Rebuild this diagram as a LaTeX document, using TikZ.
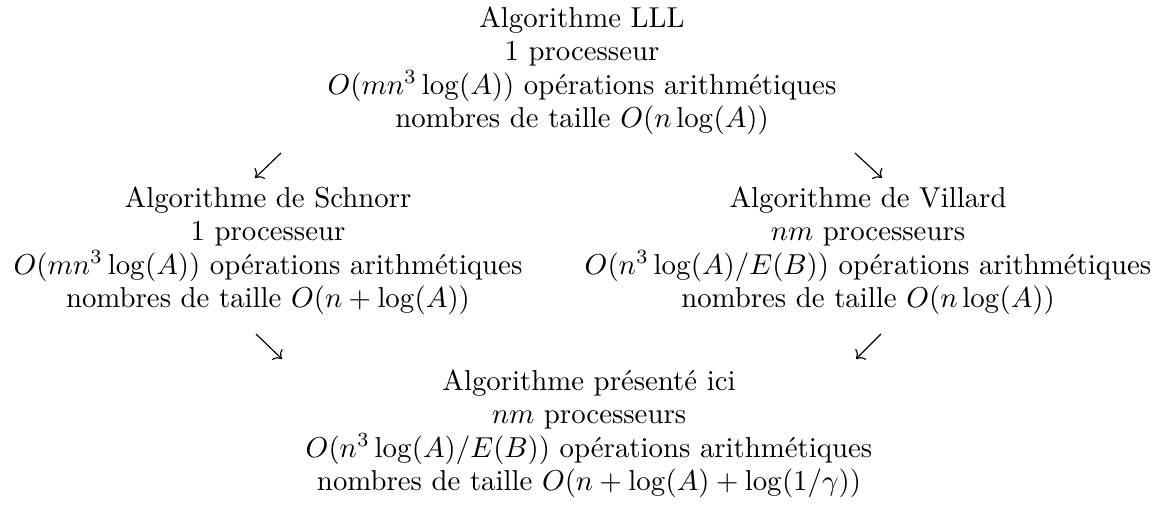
\documentclass[tikz,border=0pt]{standalone}
\usetikzlibrary{arrows.meta}
\begin{document}
\begin{tikzpicture}[x=0.3472pt,y=-0.3472pt,
  txt/.style={anchor=base,inner sep=0pt,font=\fontsize{10}{12}\selectfont},
  cmarrow/.style={-{Computer Modern Rightarrow},line width=0.4pt}]
\useasboundingbox (0,0) rectangle (1171,508);

% LLL
\node[txt] (t1) at (582,27)    {Algorithme LLL};
\node[txt] (t2) at (582,60.5)  {1 processeur};
\node[txt] (t3) at (582,94)    {$O(mn^3\log(A))$ opérations arithmétiques};
\node[txt] (t4) at (582,127.5) {nombres de taille $O(n\log(A))$};

% Schnorr
\node[txt] (l1) at (268,207)   {Algorithme de Schnorr};
\node[txt] (l2) at (268,240.5) {1 processeur};
\node[txt] (l3) at (268,274)   {$O(mn^3\log(A))$ opérations arithmétiques};
\node[txt] (l4) at (268,307.5) {nombres de taille $O(n+\log(A))$};

% Villard
\node[txt] (r1) at (868,207)   {Algorithme de Villard};
\node[txt] (r2) at (868,240.5) {$nm$ processeurs};
\node[txt] (r3) at (868,274)   {$O(n^3\log(A)/E(B))$ opérations arithmétiques};
\node[txt] (r4) at (868,307.5) {nombres de taille $O(n\log(A))$};

% new algorithm
\node[txt] (b1) at (589,390)   {Algorithme présenté ici};
\node[txt] (b2) at (589,423.5) {$nm$ processeurs};
\node[txt] (b3) at (589,457)   {$O(n^3\log(A)/E(B))$ opérations arithmétiques};
\node[txt] (b4) at (589,490.5) {nombres de taille $O(n+\log(A)+\log(1/\gamma))$};

% arrows
\coordinate (a1s) at (281,153); \coordinate (a1e) at (255,178);
\coordinate (a2s) at (855,153); \coordinate (a2e) at (882,178);
\coordinate (a3s) at (256,334); \coordinate (a3e) at (282,359);
\coordinate (a4s) at (881,334); \coordinate (a4e) at (856,359);
\draw[cmarrow] (a1s) -- (a1e);
\draw[cmarrow] (a2s) -- (a2e);
\draw[cmarrow] (a3s) -- (a3e);
\draw[cmarrow] (a4s) -- (a4e);
\end{tikzpicture}
\end{document}
